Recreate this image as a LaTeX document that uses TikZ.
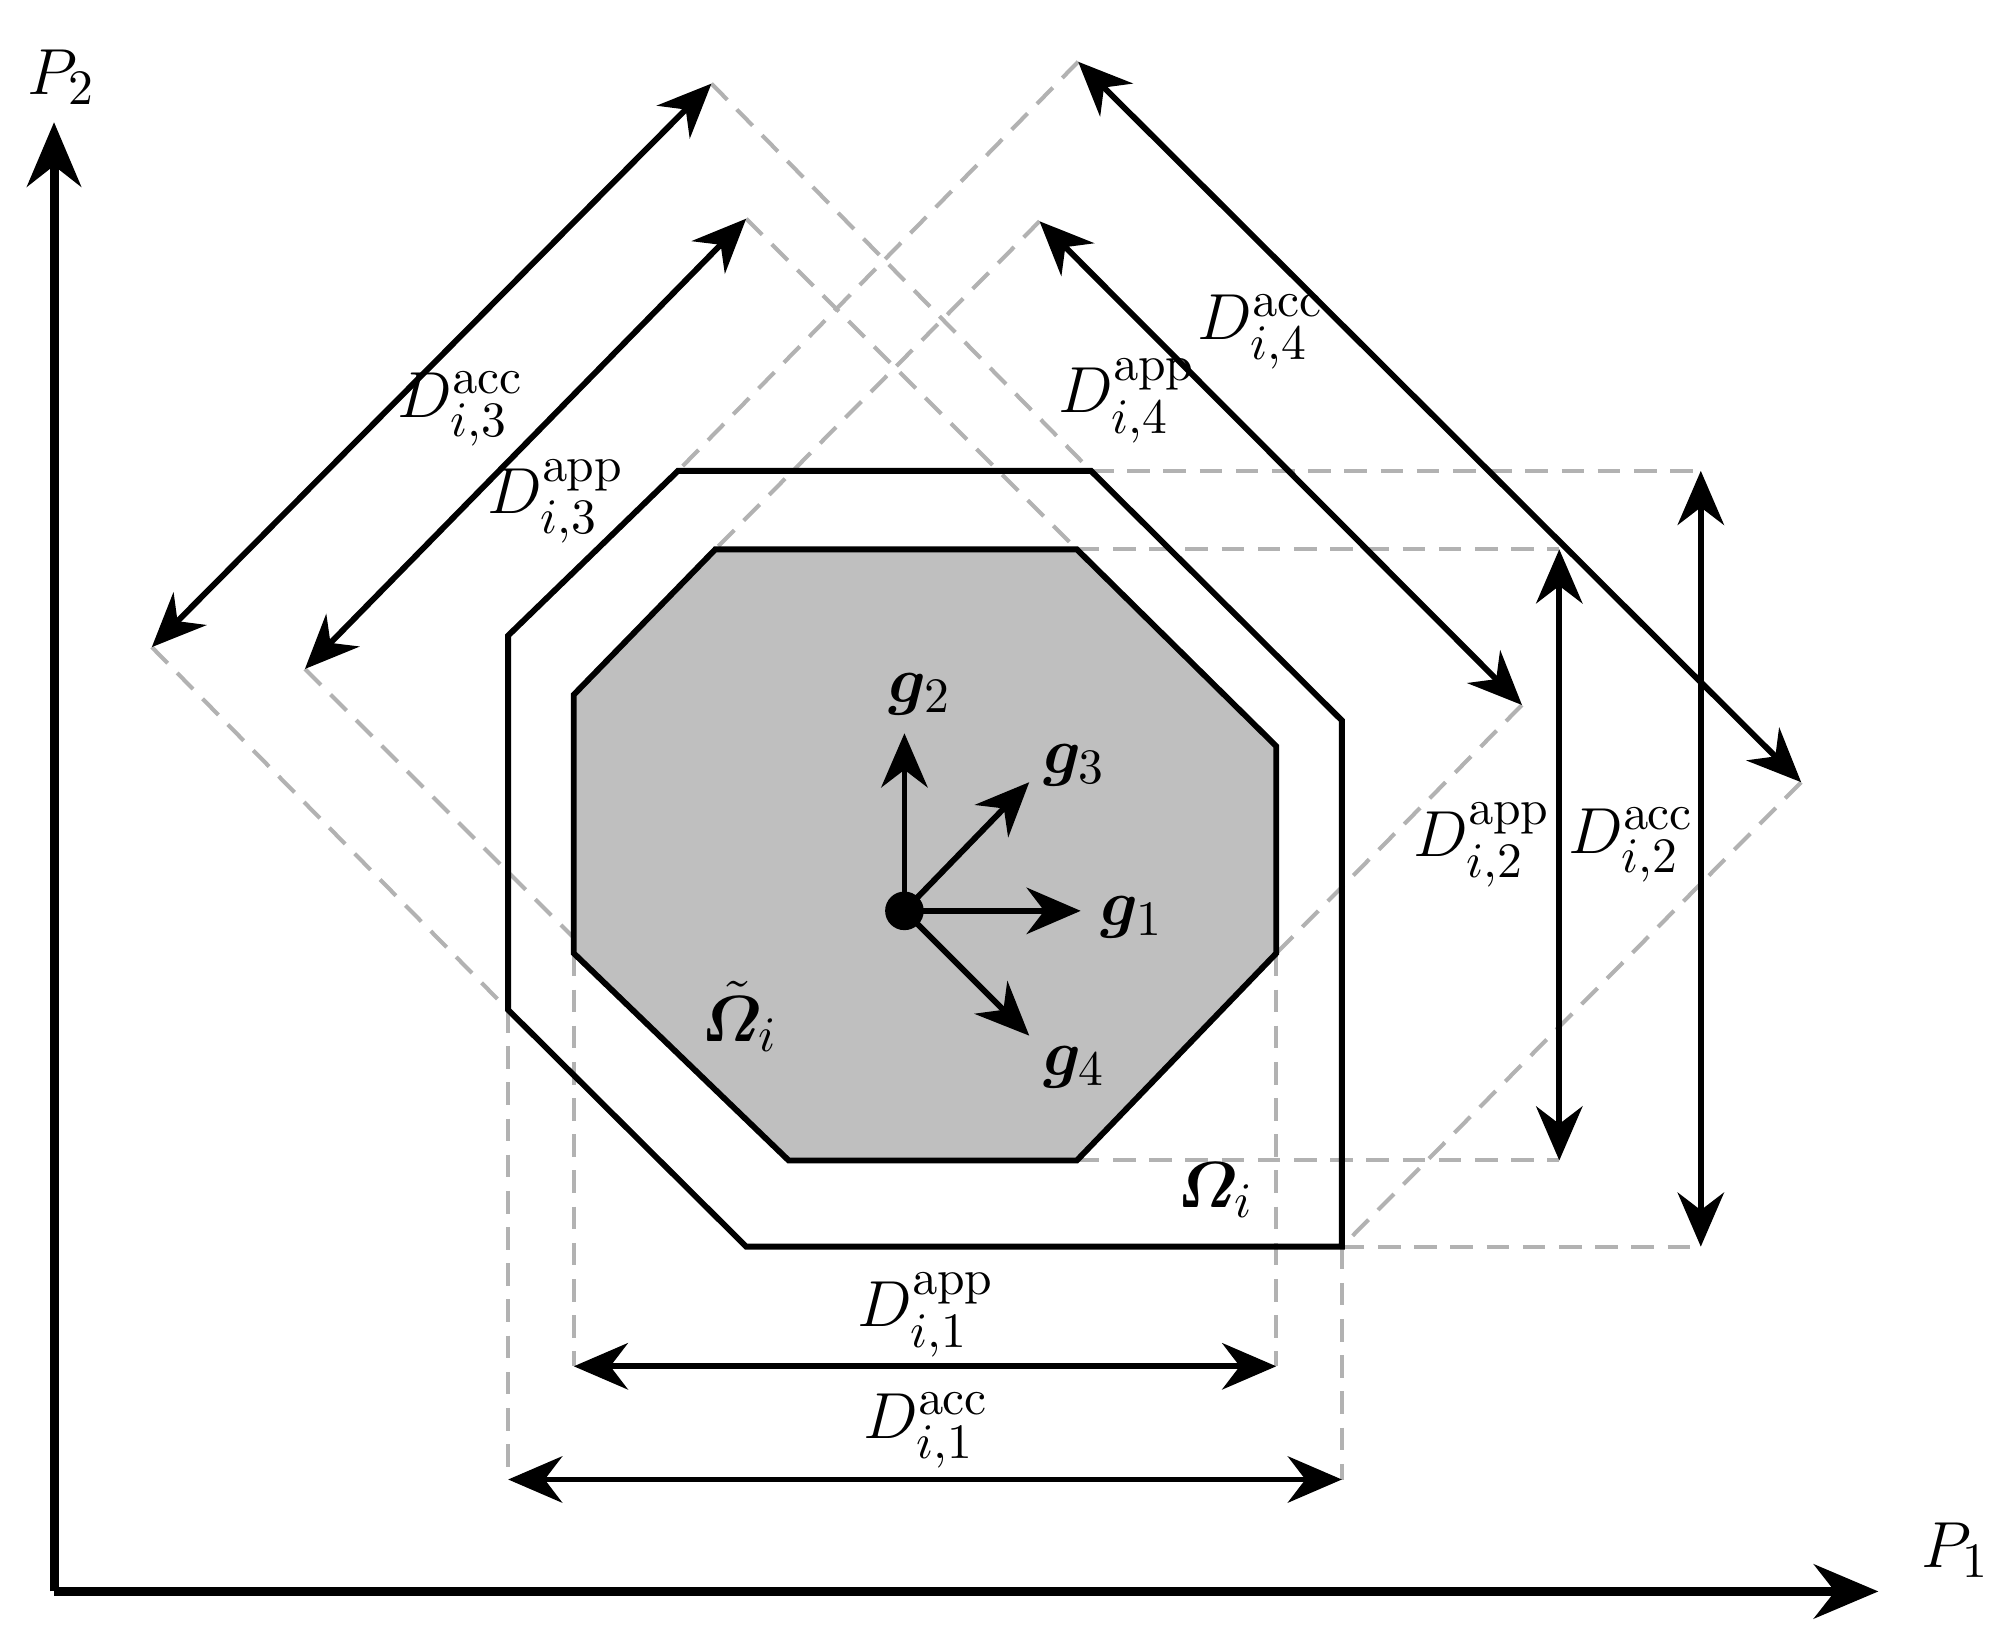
\documentclass[tikz,border=0pt]{standalone}
\usepackage{amsmath,bm}
\usetikzlibrary{arrows.meta}
\begin{document}
\begin{tikzpicture}[x=0.01cm,y=-0.01cm,
  thick/.style={line width=1.3pt},
  arr/.style={line width=1.3pt,{Stealth[length=0.42cm,width=0.36cm]}-{Stealth[length=0.42cm,width=0.36cm]}},
  one/.style={line width=1.3pt,-{Stealth[length=0.42cm,width=0.36cm]}},
  dsh/.style={gray!60,dashed,line width=0.9pt,dash pattern=on 5pt off 3pt},
  lab/.style={font=\fontsize{15}{17}\selectfont}]
\useasboundingbox (0,0) rectangle (1560,1277);
% dashed
\draw[dsh] (446,741)--(446,1062) (992,741)--(992,1062);
\draw[dsh] (395,785)--(395,1150) (1043,969)--(1043,1150);
\draw[dsh] (837,427)--(1212,427) (837,902)--(1212,902);
\draw[dsh] (848,366)--(1322,366) (1043,969)--(1322,969);
\draw[dsh] (237,520)--(446,729) (580,170)--(837,427);
\draw[dsh] (118,503)--(395,785) (553,65)--(848,366);
\draw[dsh] (808,172)--(556,427) (1183,548)--(992,741);
\draw[dsh] (838,48)--(527,366) (1400,608)--(1043,969);
% polygons
\draw[thick,fill=gray!50] (556,427)--(837,427)--(992,580)--(992,741)--(837,902)--(613,902)--(446,741)--(446,540)--cycle;
\draw[thick] (527,366)--(848,366)--(1043,560)--(1043,969)--(580,969)--(395,785)--(395,494)--cycle;
% axes
\coordinate (O) at (42,1237);
\coordinate (Y) at (42,95);
\coordinate (X) at (1460,1237);
\draw[line width=2pt,-{Stealth[length=0.5cm,width=0.42cm]}] (O)--(Y);
\draw[line width=2pt,-{Stealth[length=0.5cm,width=0.42cm]}] (O)--(X);
\node[lab] (p2) at (48,60) {$P_2$};
\node[lab] (p1) at (1520,1205) {$P_1$};
% g vectors
\node[circle,fill,inner sep=0pt,minimum size=0.3cm] (c) at (703,708) {};
\coordinate (g1e) at (840,708); \coordinate (g2e) at (703,570);
\coordinate (g3e) at (800,608); \coordinate (g4e) at (800,805);
\draw[one] (c.center)--(g1e); \draw[one] (c.center)--(g2e);
\draw[one] (c.center)--(g3e); \draw[one] (c.center)--(g4e);
\node[lab] (g1) at (880,713) {$\bm{g}_1$};
\node[lab] (g2) at (715,540) {$\bm{g}_2$};
\node[lab] (g3) at (835,595) {$\bm{g}_3$};
\node[lab] (g4) at (835,830) {$\bm{g}_4$};
\node[lab] (ot) at (575,790) {$\tilde{\bm{\varOmega}}_i$};
\node[lab] (o) at (945,925) {$\bm{\varOmega}_i$};
% dimension arrows
\coordinate (a1) at (446,1062); \coordinate (b1) at (992,1062);
\coordinate (a2) at (395,1150); \coordinate (b2) at (1043,1150);
\coordinate (a3) at (1212,427); \coordinate (b3) at (1212,902);
\coordinate (a4) at (1322,366); \coordinate (b4) at (1322,969);
\coordinate (a5) at (237,520); \coordinate (b5) at (580,170);
\coordinate (a6) at (118,503); \coordinate (b6) at (553,65);
\coordinate (a7) at (808,172); \coordinate (b7) at (1183,548);
\coordinate (a8) at (838,48); \coordinate (b8) at (1400,608);
\foreach \i in {1,...,8} \draw[arr] (a\i)--(b\i);
\node[lab] at (720,1022) {$D_{i,1}^{\mathrm{app}}$};
\node[lab] at (720,1112) {$D_{i,1}^{\mathrm{acc}}$};
\node[lab] at (1152,657) {$D_{i,2}^{\mathrm{app}}$};
\node[lab] at (1268,657) {$D_{i,2}^{\mathrm{acc}}$};
\node[lab] at (432,390) {$D_{i,3}^{\mathrm{app}}$};
\node[lab] at (358,318) {$D_{i,3}^{\mathrm{acc}}$};
\node[lab] at (876,312) {$D_{i,4}^{\mathrm{app}}$};
\node[lab] at (980,258) {$D_{i,4}^{\mathrm{acc}}$};
\end{tikzpicture}
\end{document}
